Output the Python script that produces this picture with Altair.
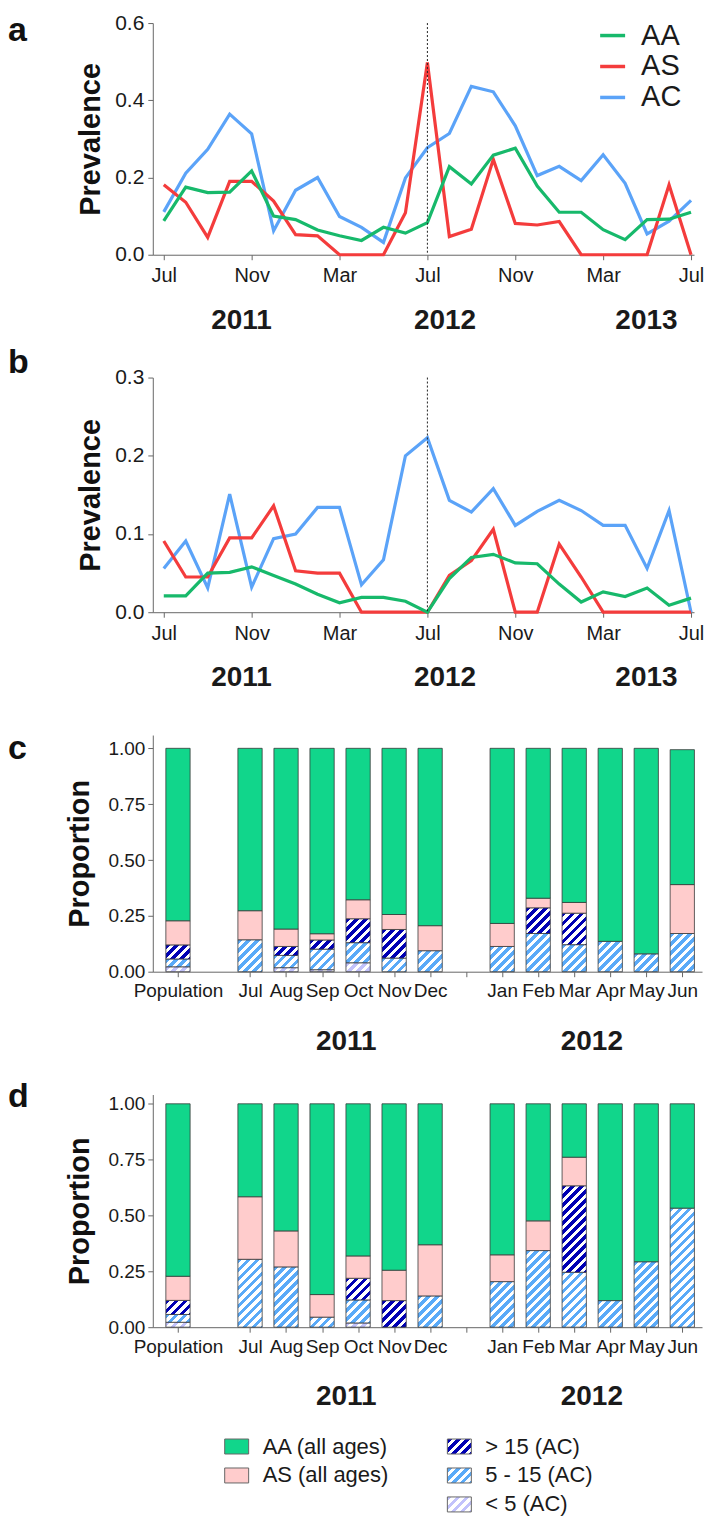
import json
import altair as alt
import pandas as pd

FONT = "Liberation Sans"

# ---------------- panel a / b data (monthly, Jul 2011 .. Jul 2013) ----------------
months = list(range(25))
month_ticks = [0, 4, 8, 12, 16, 20, 24]
month_tick_labels = ["Jul", "Nov", "Mar", "Jul", "Nov", "Mar", "Jul"]
series = ["AA", "AS", "AC"]
series_colors = ["#17b96b", "#f43c3c", "#5ba3f8"]

a_AA = [0.088, 0.175, 0.161, 0.162, 0.217, 0.100, 0.091, 0.064, 0.049, 0.037, 0.071, 0.056, 0.083,
        0.228, 0.183, 0.258, 0.276, 0.178, 0.110, 0.110, 0.065, 0.039, 0.091, 0.092, 0.110]
a_AS = [0.181, 0.136, 0.045, 0.190, 0.190, 0.139, 0.052, 0.049, 0.0, 0.0, 0.0, 0.109, 0.498,
        0.047, 0.066, 0.247, 0.081, 0.077, 0.086, 0.0, 0.0, 0.0, 0.0, 0.181, 0.0]
a_AC = [0.111, 0.211, 0.273, 0.364, 0.313, 0.062, 0.167, 0.200, 0.099, 0.071, 0.032, 0.199, 0.277,
        0.314, 0.436, 0.422, 0.334, 0.205, 0.229, 0.192, 0.259, 0.185, 0.054, 0.087, 0.141]

b_AA = [0.021, 0.021, 0.050, 0.051, 0.058, 0.047, 0.036, 0.023, 0.012, 0.019, 0.019, 0.014, 0.0,
        0.043, 0.070, 0.074, 0.063, 0.062, 0.036, 0.013, 0.026, 0.020, 0.031, 0.009, 0.018]
b_AS = [0.091, 0.045, 0.045, 0.095, 0.095, 0.136, 0.053, 0.050, 0.050, 0.0, 0.0, 0.0, 0.0,
        0.047, 0.066, 0.106, 0.0, 0.0, 0.087, 0.045, 0.0, 0.0, 0.0, 0.0, 0.0]
b_AC = [0.056, 0.091, 0.031, 0.151, 0.032, 0.094, 0.100, 0.134, 0.134, 0.035, 0.067, 0.200, 0.223,
        0.143, 0.128, 0.158, 0.111, 0.129, 0.143, 0.130, 0.111, 0.111, 0.056, 0.130, 0.0]

years_ab = ["2011", "2012", "2013"]
years_ab_pos = [3.54, 12.8, 21.97]
switch_month = 12

# ---------------- panel c / d data (proportions) ----------------
bar_cats = ["Population", "Jul", "Aug", "Sep", "Oct", "Nov", "Dec",
            "Jan", "Feb", "Mar", "Apr", "May", "Jun"]
bar_slots = [0, 2, 3, 4, 5, 6, 7, 9, 10, 11, 12, 13, 14]
extra_ticks = [8]
years_cd = ["2011", "2012"]
years_cd_pos = [4.67, 11.49]

c_lt5 = [0.022, 0, 0.018, 0.009, 0.040, 0, 0, 0, 0, 0, 0, 0, 0]
c_m515 = [0.035, 0.143, 0.055, 0.092, 0.090, 0.061, 0.094, 0.113, 0.171, 0.121, 0.136, 0.080, 0.171]
c_gt15 = [0.063, 0, 0.040, 0.041, 0.107, 0.128, 0, 0, 0.115, 0.141, 0, 0, 0]
c_AS = [0.108, 0.130, 0.078, 0.028, 0.085, 0.067, 0.112, 0.103, 0.043, 0.048, 0, 0, 0.219]
c_AA = [0.772, 0.727, 0.809, 0.830, 0.678, 0.744, 0.794, 0.784, 0.671, 0.690, 0.864, 0.920, 0.604]

d_lt5 = [0.022, 0, 0, 0, 0.019, 0, 0, 0, 0, 0, 0, 0, 0]
d_m515 = [0.035, 0.304, 0.270, 0.045, 0.103, 0, 0.140, 0.204, 0.343, 0.246, 0.119, 0.293, 0.533]
d_gt15 = [0.063, 0, 0, 0, 0.097, 0.119, 0, 0, 0, 0.387, 0, 0, 0]
d_AS = [0.108, 0.280, 0.161, 0.101, 0.100, 0.136, 0.229, 0.120, 0.133, 0.128, 0, 0, 0]
d_AA = [0.772, 0.416, 0.569, 0.854, 0.681, 0.745, 0.631, 0.676, 0.524, 0.239, 0.881, 0.707, 0.467]

seg_names = ["< 5 (AC)", "5 - 15 (AC)", "> 15 (AC)", "AS (all ages)", "AA (all ages)"]
seg_colors = ["#c2c2fb", "#5aaaf8", "#0000b4", "#ffcccc", "#11d68b"]
seg_hatched = [True, True, True, False, False]

# ---------------- layout / styling constants ----------------
W_LINE, H_A, H_B = 542, 232, 235
W_BAR, H_C, H_D = 550, 237, 233
PX_PER_UNIT_CD = 223.7
YMAX_C, YMAX_D = H_C / PX_PER_UNIT_CD, H_D / PX_PER_UNIT_CD
BAR_W = 24.3
LABEL_X = -145
SPACING = 123


def hatch(base, w, h, period=9.0, frac=0.52):
    """Diagonal white stripes as a hard-stop linear gradient (45 degrees in pixels)."""
    if h <= 0.5:
        return base
    L = w + h
    stops = []
    pos = 0.0
    while pos < L:
        a = round(pos / L, 5)
        b = round(min((pos + period * frac) / L, 1.0), 5)
        c = round(min((pos + period) / L, 1.0), 5)
        stops += [{"offset": a, "color": base}, {"offset": b, "color": base},
                  {"offset": b, "color": "#ffffff"}, {"offset": c, "color": "#ffffff"}]
        pos += period
    k = L / (w * w + h * h)
    return {"gradient": "linear", "x1": 0, "y1": 0,
            "x2": round(w * k, 5), "y2": round(h * k, 5), "stops": stops}


def axis(**kw):
    base = dict(domainColor="#666666", tickColor="#666666", tickSize=5, domainWidth=1,
                tickWidth=1, labelColor="#1a1a1a", labelFont=FONT, grid=False,
                titleFont=FONT, titleColor="#111111")
    base.update(kw)
    return alt.Axis(**base)


def letter_layer(letter, ly):
    return alt.Chart(alt.Data(values=[{"t": letter}])).mark_text(
        align="left", baseline="alphabetic", fontSize=34, fontWeight="bold",
        font=FONT, color="#111111").encode(
        x=alt.value(LABEL_X), y=alt.value(ly), text="t:N")


def line_panel(vals, ymax, yvals, letter, ly, height, show_legend):
    recs = []
    for s in ["AC", "AS", "AA"]:
        for m, v in zip(months, vals[s]):
            recs.append({"m": m, "v": v, "s": s})
    xs = alt.Scale(domain=[-0.5, 24.136], nice=False, zero=False)
    x = alt.X("m:Q", scale=xs, title=None,
              axis=axis(values=month_ticks, labelFontSize=20, labelPadding=6,
                        labelExpr=f"{json.dumps(month_tick_labels)}[indexof({json.dumps(month_ticks)}, datum.value)]"))
    y = alt.Y("v:Q", scale=alt.Scale(domain=[0, ymax], nice=False),
              axis=axis(values=yvals, format=".1f", labelFontSize=21, labelPadding=4,
                        title="Prevalence", titleFontSize=29, titleFontWeight="bold",
                        titleX=-53, titleY=height / 2, titleBaseline="alphabetic",
                        titleAngle=-90, titleAlign="center"))
    if show_legend:
        leg = alt.Legend(orient="none", legendX=446, legendY=-2, title=None,
                         symbolType="stroke", symbolSize=625, symbolStrokeWidth=3.5,
                         labelFontSize=29, labelFont=FONT, labelColor="#1a1a1a",
                         labelOffset=14, rowPadding=1, padding=0)
    else:
        leg = None
    color = alt.Color("s:N", scale=alt.Scale(domain=series, range=series_colors), legend=leg)
    lines = alt.Chart(alt.Data(values=recs)).mark_line(strokeWidth=3.2).encode(
        x=x, y=y, color=color)
    rule = alt.Chart(alt.Data(values=[{"m": switch_month}])).mark_rule(
        strokeDash=[2, 2], color="#222222", strokeWidth=1).encode(x="m:Q")
    yrs = alt.Chart(alt.Data(values=[{"pos": p, "year": t} for p, t in zip(years_ab_pos, years_ab)])).mark_text(
        fontSize=28, fontWeight="bold", font=FONT, color="#1a1a1a", baseline="middle").encode(
        x="pos:Q", y=alt.value(height + 66), text="year:N")
    return alt.layer(lines, rule, yrs, letter_layer(letter, ly)).properties(
        width=W_LINE, height=height)


def bar_panel(comps, ymax, letter, ly, height):
    ppu = height / ymax
    recs = []
    for i, cat in enumerate(bar_cats):
        base = 0.0
        for k in range(5):
            v = comps[k][i]
            if v <= 0:
                continue
            fill = hatch(seg_colors[k], BAR_W, v * ppu) if seg_hatched[k] else seg_colors[k]
            recs.append({"slot": bar_slots[i], "cat": cat, "seg": seg_names[k],
                         "y0": base, "y1": base + v, "fill": fill})
            base += v
    tick_vals = sorted(bar_slots + extra_ticks)
    tick_names = [bar_cats[bar_slots.index(v)] if v in bar_slots else "" for v in tick_vals]
    xs = alt.Scale(domain=[-0.5607, 14.409], nice=False, zero=False)
    x = alt.X("slot:Q", scale=xs, title=None,
              axis=axis(values=tick_vals, labelFontSize=19, labelPadding=5,
                        labelExpr=f"{json.dumps(tick_names)}[indexof({json.dumps(tick_vals)}, datum.value)]"))
    y = alt.Y("y0:Q", scale=alt.Scale(domain=[0, ymax], nice=False),
              axis=axis(values=[0, 0.25, 0.5, 0.75, 1.0], format=".2f", labelFontSize=19,
                        labelPadding=3, title="Proportion", titleFontSize=29,
                        titleFontWeight="bold", titleX=-64, titleY=height / 2,
                        titleBaseline="alphabetic", titleAngle=-90, titleAlign="center"))
    bars = alt.Chart(alt.Data(values=recs)).mark_bar(
        size=BAR_W, stroke="#3a3a3a", strokeWidth=0.8).encode(
        x=x, y=y, y2="y1:Q", fill=alt.Fill("fill:N", scale=None))
    yrs = alt.Chart(alt.Data(values=[{"pos": p, "year": t} for p, t in zip(years_cd_pos, years_cd)])).mark_text(
        fontSize=28, fontWeight="bold", font=FONT, color="#1a1a1a", baseline="middle").encode(
        x="pos:Q", y=alt.value(height + 70), text="year:N")
    return alt.layer(bars, yrs, letter_layer(letter, ly)).properties(width=W_BAR, height=height)


def legend_panel():
    order = [4, 3, 2, 1, 0]
    cols = [0, 0, 1, 1, 1]
    rows = [0, 1, 0, 1, 2]
    recs = []
    for k, c, r in zip(order, cols, rows):
        fill = hatch(seg_colors[k], 24, 15) if seg_hatched[k] else seg_colors[k]
        recs.append({"col": c, "row": r, "label": seg_names[k], "fill": fill})
    xsc = alt.Scale(domain=[0, 1], range=[72, 295])
    ysc = alt.Scale(domain=[0, 2], range=[-3.5, 54.5])
    sw = alt.Chart(alt.Data(values=recs)).mark_rect(
        x2Offset=24, yOffset=-7.5, y2Offset=7.5, stroke="#666666", strokeWidth=1).encode(
        x=alt.X("col:Q", scale=xsc, axis=None), x2="col:Q",
        y=alt.Y("row:Q", scale=ysc, axis=None), y2="row:Q",
        fill=alt.Fill("fill:N", scale=None))
    tx = alt.Chart(alt.Data(values=recs)).mark_text(
        align="left", baseline="middle", dx=38, fontSize=22, font=FONT, color="#1a1a1a").encode(
        x=alt.X("col:Q", scale=xsc, axis=None), y=alt.Y("row:Q", scale=ysc, axis=None),
        text="label:N")
    return alt.layer(sw, tx).properties(width=W_BAR, height=58)


pa = line_panel({"AA": a_AA, "AS": a_AS, "AC": a_AC}, 0.6, [0, 0.2, 0.4, 0.6], "a", 17.5, H_A, True)
pb = line_panel({"AA": b_AA, "AS": b_AS, "AC": b_AC}, 0.3, [0, 0.1, 0.2, 0.3], "b", -4.5, H_B, False)
pc = bar_panel([c_lt5, c_m515, c_gt15, c_AS, c_AA], YMAX_C, "c", 23.5, H_C)
pdd = bar_panel([d_lt5, d_m515, d_gt15, d_AS, d_AA], YMAX_D, "d", 12, H_D)
pl = legend_panel()

chart = alt.vconcat(pa, pb, pc, pdd, pl, spacing=SPACING, bounds="flush").resolve_scale(
    color="independent", x="independent", y="independent").resolve_legend(
    color="independent").properties(
    padding={"left": 0, "top": 3, "right": 0, "bottom": 0}).configure(
    font=FONT).configure_view(stroke=None)

chart.save("out.html", embed_options={"renderer": "svg", "actions": False})
